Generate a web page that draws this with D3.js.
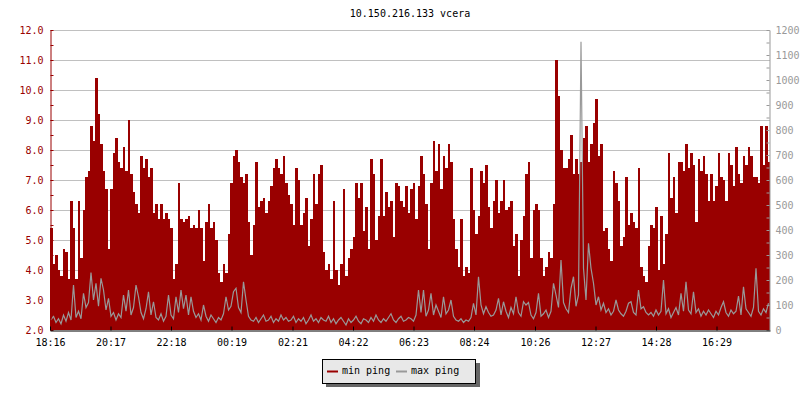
<!DOCTYPE html>
<html><head><meta charset="utf-8">
<script src="https://cdn.jsdelivr.net/npm/d3@7"></script>
<style>
html,body{margin:0;padding:0;background:#fff;}
svg{display:block;font-family:"DejaVu Sans Mono",monospace;font-size:10px;}
</style></head><body>
<svg id="c" width="800" height="400"></svg>
<script>
const chartTitle = "10.150.216.133 vcera";
const startLabel = "18:16";
const stepMinutes = 5;
const timeLabels = ["18:16","20:17","22:18","00:19","02:21","04:22","06:23","08:24","10:26","12:27","14:28","16:29"];
const leftTicks = [2,3,4,5,6,7,8,9,10,11,12];
const rightTicks = [0,100,200,300,400,500,600,700,800,900,1000,1100,1200];
const seriesNames = ["min ping","max ping"];

const minPing = [
5.4,4.2,4.5,4.0,3.8,4.7,4.6,3.7,6.3,5.4,
3.7,6.3,4.4,6.0,7.1,7.3,8.8,8.3,10.4,9.2,
8.2,7.3,6.7,4.7,6.7,7.9,8.4,7.6,7.4,8.1,
7.3,9.0,7.2,6.6,6.2,5.9,7.8,7.4,7.7,7.1,
7.4,5.9,6.2,5.7,6.2,5.7,5.9,5.7,
5.4,3.7,4.2,6.9,5.7,5.6,5.7,5.8,5.4,5.5,
5.4,6.0,5.4,4.3,5.6,6.2,5.4,5.6,5.0,3.9,
3.6,4.2,3.9,5.2,6.9,7.8,8.0,7.6,7.1,6.9,
7.2,5.6,4.5,5.5,7.6,6.1,6.3,6.4,5.9,6.3,
6.8,7.4,7.7,7.4,7.2,7.8,6.9,6.5,
6.2,5.5,7.4,7.0,5.5,5.9,6.4,4.8,5.7,7.2,
6.2,7.2,7.5,4.6,4.0,4.2,3.7,6.3,4.0,3.5,
4.2,6.7,3.8,4.4,4.7,5.1,6.9,6.4,6.9,5.3,
6.1,4.7,7.7,7.2,5.0,5.8,7.7,5.8,6.6,6.1,
6.3,5.1,6.9,6.8,6.3,6.1,6.8,5.9,
6.7,6.9,5.7,6.8,7.8,7.2,6.2,4.7,6.9,8.3,
7.3,8.2,6.7,7.8,7.4,8.2,7.6,5.7,4.7,4.1,
5.7,3.8,4.1,3.9,7.4,6.0,5.2,5.8,7.3,6.9,
7.5,6.1,5.4,6.3,7.0,5.9,6.3,7.0,6.0,6.1,
6.3,4.8,5.2,3.8,5.0,5.8,7.2,7.6,
4.4,6.0,6.2,6.0,4.4,3.8,4.1,4.6,4.4,6.2,
11.0,9.8,8.0,7.4,7.4,7.7,8.5,7.2,7.7,7.2,
7.6,8.4,8.8,7.6,8.2,8.9,9.7,7.8,8.2,5.3,
5.4,4.7,4.3,7.3,6.9,6.3,4.8,5.1,7.1,5.5,
5.9,5.6,5.4,7.4,4.1,3.8,3.6,4.8,
5.5,5.4,6.1,4.0,5.8,4.2,5.2,7.9,6.4,7.1,
5.9,7.6,7.6,7.3,8.2,7.4,7.9,7.5,5.6,7.7,
7.3,7.8,7.2,6.3,7.2,6.3,6.8,7.9,7.1,7.0,
6.3,7.9,7.5,6.8,8.1,7.2,6.9,7.8,7.5,8.1,
7.8,7.1,7.1,6.9,8.8,7.5,8.8,7.6
];

const maxPing = [
40,55,30,45,25,60,35,70,40,180,50,75,45,147,90,110,230,120,187,95,207,160,80,127,55,70,40,65,50,140,75,160,60,90,180,133,70,45,85,153,60,113,50,40,65,35,55,140,
60,45,133,70,160,85,140,60,133,75,50,65,40,100,55,35,60,45,30,50,40,65,133,80,95,153,167,90,70,193,120,55,40,35,50,30,45,60,35,40,55,30,45,35,60,40,50,35,
40,55,30,45,35,50,25,40,60,35,45,30,50,40,35,55,30,45,25,40,50,35,20,45,30,40,55,35,25,45,40,30,50,35,60,40,30,45,35,50,65,40,30,45,55,35,40,50,
45,35,60,160,70,160,55,80,147,60,100,75,50,133,65,80,120,55,40,35,45,30,40,35,50,107,60,213,100,65,93,70,55,60,80,127,60,113,75,50,90,65,133,70,55,113,100,110,
60,45,70,147,55,65,80,50,75,187,140,90,280,110,85,70,167,213,95,140,1153,247,120,347,247,187,100,133,80,107,70,85,60,75,120,80,65,55,75,107,113,70,60,160,85,93,70,60,
70,55,80,60,75,200,65,85,50,70,90,60,147,75,193,80,65,153,70,85,55,75,60,80,65,50,75,60,90,113,70,55,80,65,75,136,60,173,85,70,55,90,247,75,60,85,70,107
];

const RED = "#990000", GRAY = "#999999", GRID = "#c0c0c0";
const svg = d3.select("#c");

function toTime(s, ref) {
  const [h, m] = s.split(":").map(Number);
  const d = new Date(2020, 0, 1, h, m);
  if (ref && d < ref) d.setDate(2);
  return d;
}
const t0 = toTime(startLabel);
const t1 = d3.timeMinute.offset(t0, minPing.length * stepMinutes);
const tickTimes = timeLabels.map(s => toTime(s, t0));

const x = d3.scaleTime().domain([t0, t1]).range([50, 770]);
const yL = d3.scaleLinear().domain([2, 12]).range([330, 30]);
const yR = d3.scaleLinear().domain([0, 1200]).range([330, 30]);

// title
svg.append("text").attr("x", 410).attr("y", 17).attr("text-anchor", "middle")
  .attr("fill", "#000").text(chartTitle);

// grid
svg.append("g").selectAll("line").data(leftTicks.filter(v => v > 2)).join("line")
  .attr("x1", 50).attr("x2", 770)
  .attr("y1", d => Math.round(yL(d)) + 0.5).attr("y2", d => Math.round(yL(d)) + 0.5)
  .attr("stroke", GRID).attr("stroke-width", 1);

// series
const ptsMin = minPing.map((v, i) => ({ t: d3.timeMinute.offset(t0, i * stepMinutes), v }));
ptsMin.push({ t: t1, v: minPing[minPing.length - 1] });
const area = d3.area().x(d => x(d.t)).y0(yL(2)).y1(d => yL(d.v)).curve(d3.curveStepAfter);
svg.append("path").datum(ptsMin).attr("d", area).attr("fill", RED)
  .attr("shape-rendering", "crispEdges");

const ptsMax = maxPing.map((v, i) => ({ t: d3.timeMinute.offset(t0, i * stepMinutes + stepMinutes / 2), v }));
const line = d3.line().x(d => x(d.t)).y(d => yR(d.v));
svg.append("path").datum(ptsMax).attr("d", line).attr("fill", "none")
  .attr("stroke", GRAY).attr("stroke-width", 1.2).attr("stroke-linejoin", "miter");

// left axis
const minorL = d3.range(2, 12.001, 0.5);
const gL = svg.append("g").attr("transform", "translate(50.5,0)")
  .call(d3.axisLeft(yL).tickValues(minorL).tickSizeInner(-3).tickSizeOuter(0).tickPadding(7)
    .tickFormat(d => Number.isInteger(d) ? d3.format(".1f")(d) : ""));
gL.selectAll("path,line").attr("stroke", RED);
gL.selectAll("text").attr("fill", RED).style("font-family", '"DejaVu Sans Mono",monospace').style("font-size", "10px");

// right axis
const minorR = d3.range(0, 1200.1, 50);
const gR = svg.append("g").attr("transform", "translate(769.5,0)")
  .call(d3.axisRight(yR).tickValues(minorR).tickSizeInner(-3).tickSizeOuter(0).tickPadding(6)
    .tickFormat(d => rightTicks.includes(d) ? String(d) : ""));
gR.selectAll("path,line").attr("stroke", GRAY);
gR.selectAll("text").attr("fill", GRAY).style("font-family", '"DejaVu Sans Mono",monospace').style("font-size", "10px");

// bottom axis
const gB = svg.append("g").attr("transform", "translate(0,330.5)")
  .call(d3.axisBottom(x).tickValues(tickTimes).tickSizeInner(-4).tickSizeOuter(0).tickPadding(8)
    .tickFormat(d3.timeFormat("%H:%M")));
gB.selectAll("path,line").attr("stroke", "#000");
gB.selectAll("text").attr("fill", "#000").style("font-family", '"DejaVu Sans Mono",monospace').style("font-size", "10px");

// legend
const lg = svg.append("g");
lg.append("rect").attr("x", 326).attr("y", 363).attr("width", 154).attr("height", 24).attr("fill", "#666");
lg.append("rect").attr("x", 322.5).attr("y", 359.5).attr("width", 153).attr("height", 24)
  .attr("fill", "#e8e8e8").attr("stroke", "#000");
const legendItems = [{ name: seriesNames[0], color: RED, x: 327 }, { name: seriesNames[1], color: GRAY, x: 396 }];
legendItems.forEach(it => {
  lg.append("rect").attr("x", it.x).attr("y", 370.5).attr("width", 11).attr("height", 2).attr("fill", it.color);
  lg.append("text").attr("x", it.x + 15).attr("y", 374).attr("fill", "#000").text(it.name);
});
</script>
</body></html>
